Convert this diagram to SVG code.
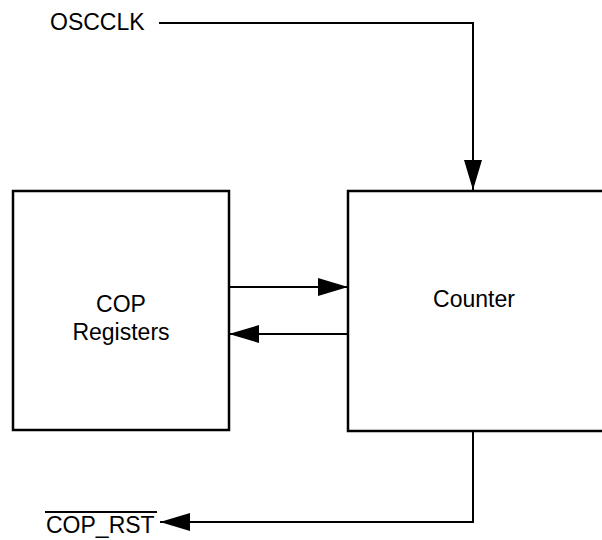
<svg xmlns="http://www.w3.org/2000/svg" width="602" height="540" viewBox="0 0 602 540">
<defs>
<style>
.box{fill:#fff;stroke:#000;stroke-width:2.5}
.wire{fill:none;stroke:#000;stroke-width:2}
.lbl{font-family:"Liberation Sans",Arial,sans-serif;font-size:23px;fill:#000}
</style>
<marker id="ah" viewBox="0 0 30 18" refX="30" refY="9" markerWidth="30" markerHeight="18" markerUnits="userSpaceOnUse" orient="auto">
<path d="M0,0 L30,9 L0,18 Z" fill="#000"/>
</marker>
</defs>
<g id="cop-registers">
<rect class="box" x="13" y="191" width="216" height="239"/>
<text class="lbl" x="121" y="312" text-anchor="middle">COP</text>
<text class="lbl" x="121" y="340" text-anchor="middle">Registers</text>
</g>
<g id="counter">
<rect class="box" x="348" y="191" width="270" height="240"/>
<text class="lbl" x="474" y="307" text-anchor="middle">Counter</text>
</g>
<g id="oscclk">
<text class="lbl" x="50" y="30">OSCCLK</text>
</g>
<g id="cop-rst">
<text class="lbl" x="46" y="533">COP_RST</text>
<line x1="45" y1="512" x2="157" y2="512" stroke="#000" stroke-width="2"/>
</g>
<g id="connectors">
<polyline class="wire" points="159,23 473,23 473,190" marker-end="url(#ah)"/>
<line class="wire" x1="229" y1="287" x2="348" y2="287" marker-end="url(#ah)"/>
<line class="wire" x1="348" y1="334" x2="229" y2="334" marker-end="url(#ah)"/>
<polyline class="wire" points="473,431 473,522 160,522" marker-end="url(#ah)"/>
</g>
</svg>
